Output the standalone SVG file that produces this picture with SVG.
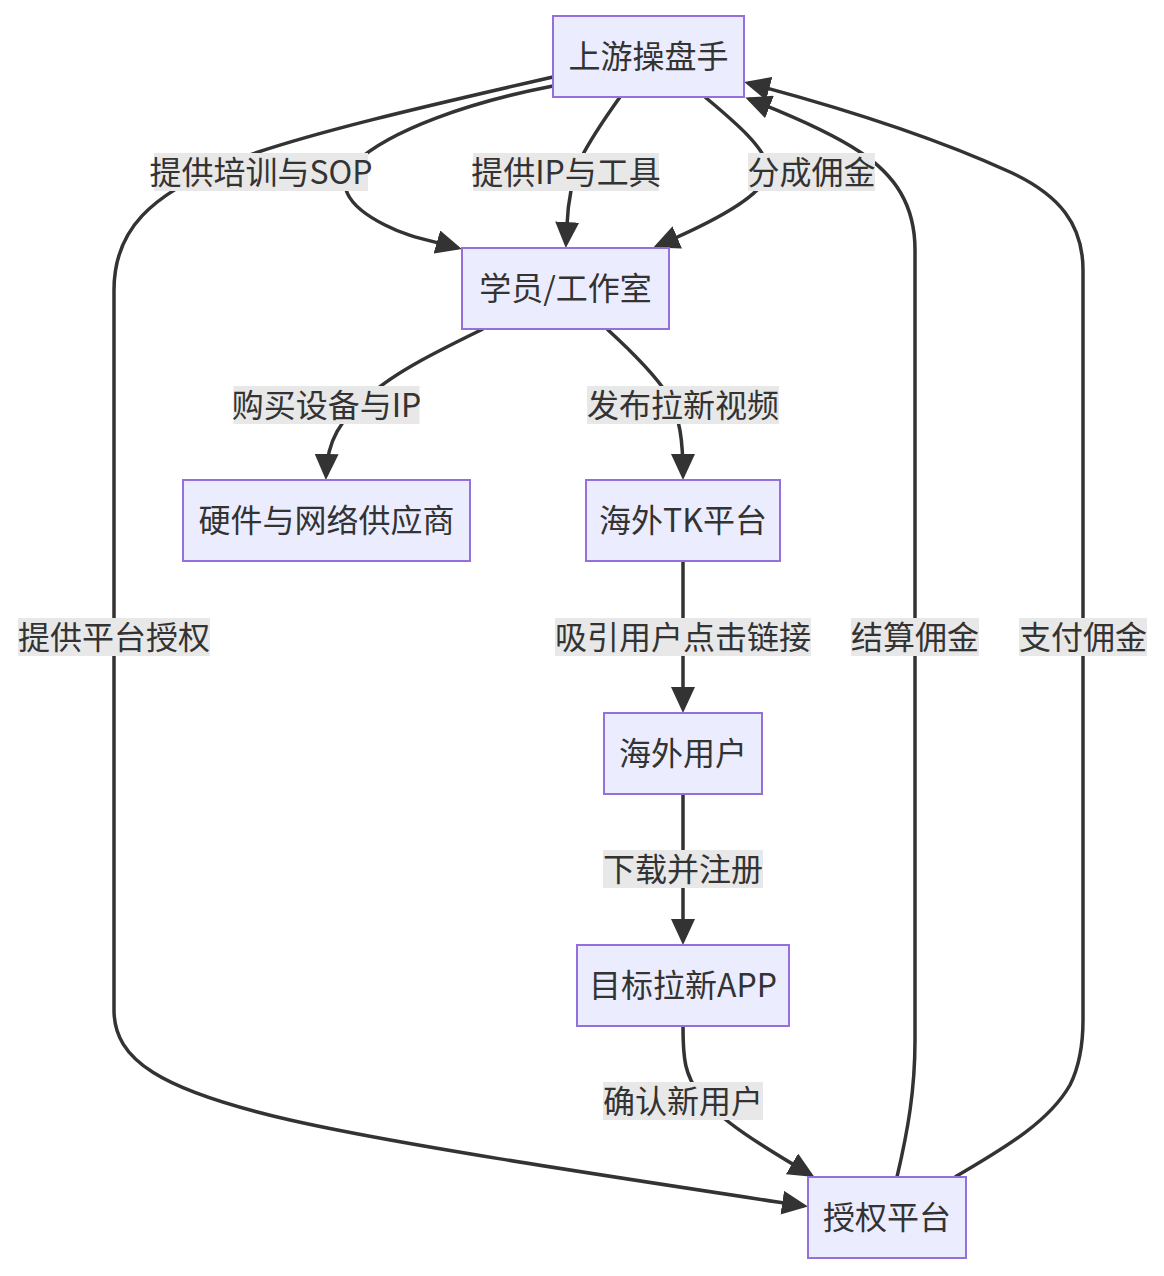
<svg xmlns="http://www.w3.org/2000/svg" width="1164" height="1276" viewBox="0 0 1164 1276">
<defs>
<marker id="arr" markerUnits="userSpaceOnUse" markerWidth="26" markerHeight="24" viewBox="0 0 26 24" refX="22" refY="12" orient="auto">
<path d="M0,0 L26,12 L0,24 z" fill="#333333"/>
</marker>
<style>
.node rect{fill:#ECECFF;stroke:#9370DB;stroke-width:2}
.node text,.lbl text{font-family:"Noto Sans CJK SC","Noto Sans",sans-serif;font-size:32px;fill:#333333;text-anchor:middle;dominant-baseline:central}
.edges path{fill:none;stroke:#333333;stroke-width:3.5;marker-end:url(#arr)}
.lbl rect{fill:#e8e8e8}
</style>
</defs>
<rect width="1164" height="1276" fill="#ffffff"/>
<g id="connectors" class="edges">
<path d="M553,86 C470,102 390,130 355,163 C335,182 345,205 385,225 C410,238 430,240 458,248"/>
<path d="M620,97 C605,118 590,140 580,160 C572,180 568,200 567,225 L566,244"/>
<path d="M705,97 C735,122 768,150 768,170 C768,190 730,215 657,246"/>
<path d="M553,77 C430,105 300,135 230,162 C150,195 114,230 114,290 L114,1010 C114,1060 160,1090 290,1120 C400,1145 600,1175 804,1206"/>
<path d="M483,329 C440,350 395,372 370,395 C340,420 327,440 326,476"/>
<path d="M607,329 C630,350 655,375 668,395 C680,418 683,440 683,476"/>
<path d="M683,561 L683,709"/>
<path d="M683,794 L683,941"/>
<path d="M683,1026 C683,1060 685,1075 700,1095 C720,1120 760,1145 811,1175"/>
<path d="M897,1177 C908,1130 915,1090 915,1040 L915,250 C915,205 895,175 860,152 C830,132 790,115 749,99"/>
<path d="M955,1177 C1010,1145 1050,1120 1070,1085 C1080,1065 1083,1045 1083,1020 L1083,270 C1083,225 1060,195 1010,172 C940,140 850,110 748,83"/>
</g>
<g id="edge-labels">
<g class="lbl"><rect x="154" y="153" width="214" height="38"/><text x="261" y="170">提供培训与SOP</text></g>
<g class="lbl"><rect x="473" y="153" width="186" height="38"/><text x="566" y="170">提供IP与工具</text></g>
<g class="lbl"><rect x="748" y="153" width="127" height="38"/><text x="811.5" y="170">分成佣金</text></g>
<g class="lbl"><rect x="233.5" y="386" width="186" height="38"/><text x="326.5" y="403">购买设备与IP</text></g>
<g class="lbl"><rect x="587" y="386" width="192" height="38"/><text x="683" y="403">发布拉新视频</text></g>
<g class="lbl"><rect x="18" y="618" width="192" height="38"/><text x="114" y="635">提供平台授权</text></g>
<g class="lbl"><rect x="555" y="618" width="256" height="38"/><text x="683" y="635">吸引用户点击链接</text></g>
<g class="lbl"><rect x="851" y="618" width="128" height="38"/><text x="915" y="635">结算佣金</text></g>
<g class="lbl"><rect x="1019" y="618" width="128" height="38"/><text x="1083" y="635">支付佣金</text></g>
<g class="lbl"><rect x="603" y="850" width="160" height="38"/><text x="683" y="867">下载并注册</text></g>
<g class="lbl"><rect x="603" y="1082" width="160" height="38"/><text x="683" y="1099">确认新用户</text></g>
</g>
<g id="n-upstream" class="node"><rect x="553" y="16" width="191" height="81"/><text x="648.5" y="54">上游操盘手</text></g>
<g id="n-student" class="node"><rect x="462" y="248" width="207" height="81"/><text x="565.5" y="286">学员/工作室</text></g>
<g id="n-hardware" class="node"><rect x="183" y="480" width="287" height="81"/><text x="326.5" y="518">硬件与网络供应商</text></g>
<g id="n-tk" class="node"><rect x="586" y="480" width="194" height="81"/><text x="683" y="518">海外TK平台</text></g>
<g id="n-users" class="node"><rect x="604" y="713" width="158" height="81"/><text x="683" y="751">海外用户</text></g>
<g id="n-app" class="node"><rect x="577" y="945" width="212" height="81"/><text x="683" y="983">目标拉新APP</text></g>
<g id="n-platform" class="node"><rect x="808" y="1177" width="158" height="81"/><text x="887" y="1215">授权平台</text></g>
</svg>
